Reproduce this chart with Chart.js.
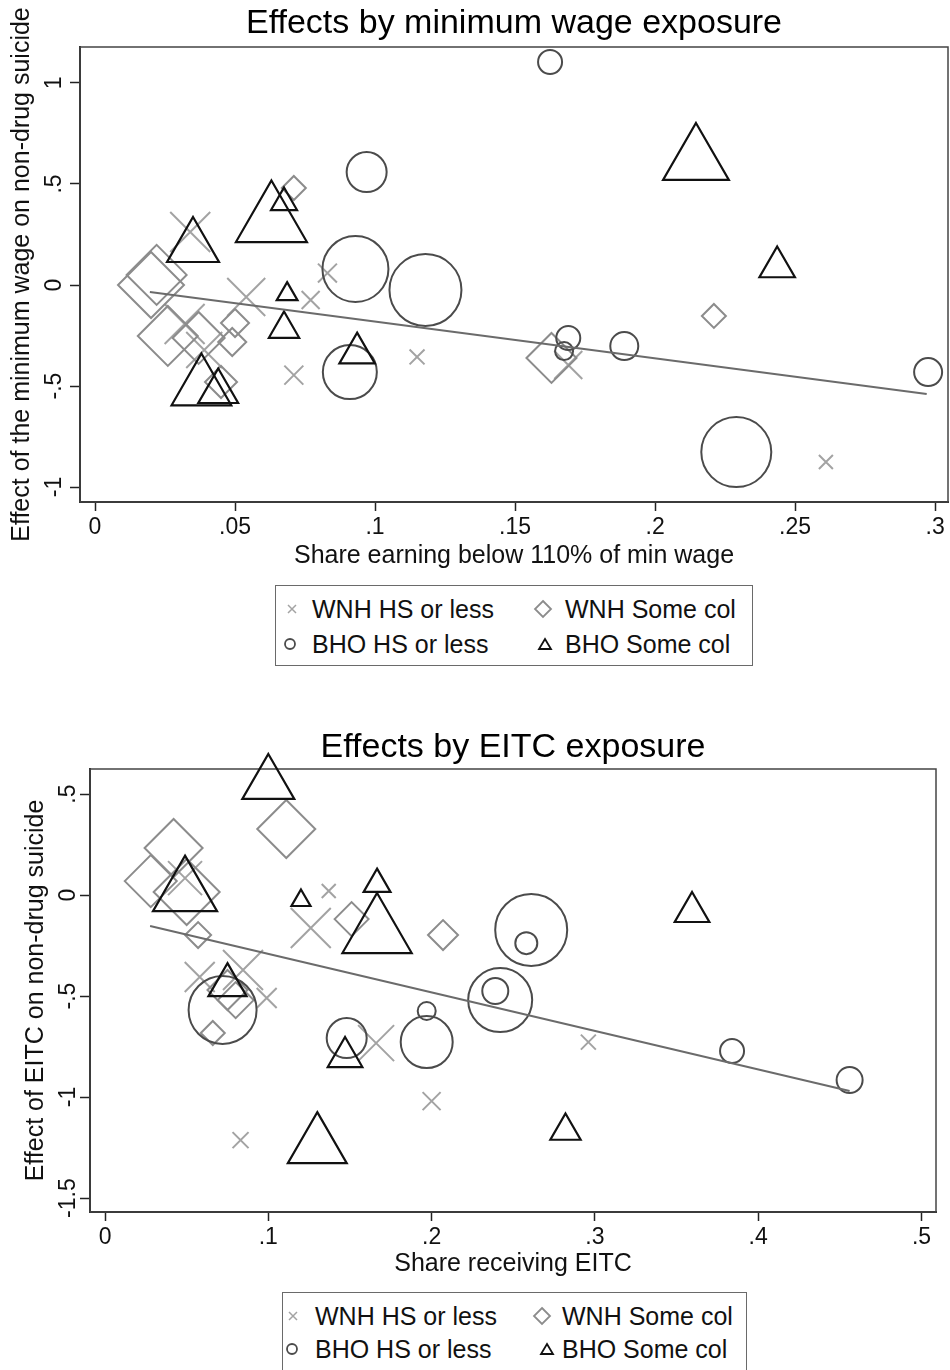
<!DOCTYPE html>
<html>
<head>
<meta charset="utf-8">
<script src="https://cdn.jsdelivr.net/npm/chart.js@4.4.0/dist/chart.umd.min.js"></script>
<style>
  html, body { margin: 0; padding: 0; background: #fff; }
  body { width: 950px; height: 1370px; position: relative; overflow: hidden;
         font-family: "Liberation Sans", Arial, sans-serif; }
  canvas { position: absolute; left: 0; }
  .key { position: absolute; border: 1.5px solid #6a6a6a; box-sizing: border-box; }
  .keytxt { position: absolute; font-size: 25px; line-height: 30px; color: #111; white-space: nowrap; }
  .keysym { position: absolute; overflow: visible; }
</style>
</head>
<body>
<canvas id="mw" width="950" height="575" style="top:0"></canvas>
<canvas id="eitc" width="950" height="585" style="top:700px"></canvas>
<script>
// series names (same in both panels)
const seriesNames = ["WNH HS or less", "WNH Some col", "BHO HS or less", "BHO Some col"];

// ---- panel 1: minimum wage exposure ----
const mwWnhHsX = [0.034, 0.054, 0.083, 0.077, 0.071, 0.115, 0.032, 0.039, 0.169, 0.261];
const mwWnhHsY = [0.262, -0.059, 0.059, -0.074, -0.446, -0.356, -0.193, -0.322, -0.396, -0.876];
const mwWnhHsW = [400, 361, 90, 81, 90, 56, 400, 324, 196, 49];

const mwWnhScX = [0.071, 0.020, 0.022, 0.026, 0.037, 0.050, 0.049, 0.045, 0.163, 0.221];
const mwWnhScY = [0.480, 0.000, 0.050, -0.252, -0.262, -0.188, -0.282, -0.480, -0.361, -0.153];
const mwWnhScW = [144, 1089, 900, 900, 676, 196, 196, 256, 625, 144];

const mwBhoHsX = [0.1625, 0.097, 0.093, 0.118, 0.091, 0.169, 0.1675, 0.189, 0.229, 0.2975];
const mwBhoHsY = [1.104, 0.559, 0.079, -0.025, -0.431, -0.262, -0.327, -0.302, -0.827, -0.431];
const mwBhoHsW = [144, 400, 1089, 1296, 729, 144, 81, 196, 1225, 196];

const mwBhoScX = [0.035, 0.063, 0.0675, 0.0686, 0.0675, 0.0936, 0.038, 0.044, 0.2146, 0.2436];
const mwBhoScY = [0.188, 0.314, 0.408, -0.045, -0.218, -0.337, -0.510, -0.527, 0.614, 0.089];
const mwBhoScW = [900, 1681, 225, 144, 306, 420, 1190, 529, 1444, 420];

const mwFitX = [0.0196, 0.297];
const mwFitY = [-0.035, -0.540];
const mwXTicks = [0, 0.05, 0.1, 0.15, 0.2, 0.25, 0.3];
const mwYTicks = [-1, -0.5, 0, 0.5, 1];

// ---- panel 2: EITC exposure ----
const eiWnhHsX = [0.049, 0.137, 0.126, 0.058, 0.0845, 0.099, 0.166, 0.296, 0.200, 0.083];
const eiWnhHsY = [0.084, 0.020, -0.163, -0.406, -0.371, -0.510, -0.733, -0.728, -1.020, -1.213];
const eiWnhHsW = [289, 49, 400, 225, 400, 100, 324, 56, 81, 64];

const eiWnhScX = [0.042, 0.111, 0.028, 0.050, 0.057, 0.151, 0.207, 0.080, 0.066, 0.075];
const eiWnhScY = [0.233, 0.327, 0.069, 0.015, -0.198, -0.119, -0.198, -0.520, -0.683, -0.470];
const eiWnhScW = [841, 841, 676, 1089, 169, 289, 225, 324, 144, 400];

const eiBhoHsX = [0.072, 0.148, 0.197, 0.197, 0.239, 0.242, 0.261, 0.258, 0.384, 0.456];
const eiBhoHsY = [-0.569, -0.708, -0.574, -0.728, -0.475, -0.520, -0.173, -0.238, -0.772, -0.916];
const eiBhoHsW = [1156, 400, 81, 676, 169, 1024, 1296, 121, 144, 169];

const eiBhoScX = [0.100, 0.049, 0.120, 0.1666, 0.1666, 0.075, 0.147, 0.130, 0.282, 0.3595];
const eiBhoScY = [0.550, 0.012, -0.027, 0.054, -0.188, -0.446, -0.802, -1.243, -1.168, -0.084];
const eiBhoScW = [900, 1369, 121, 240, 1600, 484, 400, 1156, 306, 400];

const eiFitX = [0.0276, 0.456];
const eiFitY = [-0.153, -0.970];
const eiXTicks = [0, 0.1, 0.2, 0.3, 0.4, 0.5];
const eiYTicks = [-1.5, -1, -0.5, 0, 0.5];

Chart.defaults.font.family = '"Liberation Sans", Arial, sans-serif';

// marker look for each series: hollow symbols, grey shades
const looks = [
  { style: "crossRot", color: "#a3a3a3", width: 2, k: Math.SQRT2 },
  { style: "rectRot", color: "#8c8c8c", width: 2, k: 1 },
  { style: "circle", color: "#4b4b4b", width: 2, k: 1 },
  { style: "triangle", color: "#111111", width: 2.2, k: 1 }
];

// Stata style tick labels: .5 instead of 0.5
const stataFmt = v => String(+Number(v).toFixed(4)).replace(/^(-?)0\./, "$1.");

function markerSet(i, xs, ys, ws) {
  const lk = looks[i];
  return {
    label: seriesNames[i],
    data: xs.map((x, j) => ({ x: x, y: ys[j] })),
    pointStyle: lk.style,
    pointRadius: ws.map(w => Math.sqrt(w) * lk.k),
    pointBorderColor: lk.color,
    pointBackgroundColor: "rgba(0,0,0,0)",
    pointBorderWidth: lk.width,
    order: 4 - i,
    clip: false
  };
}

function fitSet(xs, ys) {
  return {
    label: "Fitted",
    data: xs.map((x, j) => ({ x: x, y: ys[j] })),
    showLine: true,
    borderColor: "#6b6b6b",
    borderWidth: 2,
    pointRadius: 0,
    order: 0,
    clip: false
  };
}

// plot region box (top and right sides too)
const frame = {
  id: "frame",
  beforeDatasetsDraw(chart) {
    const a = chart.chartArea, c = chart.ctx;
    c.save();
    c.strokeStyle = "#444";
    c.lineWidth = 1.5;
    c.strokeRect(a.left, a.top, a.right - a.left, a.bottom - a.top);
    c.restore();
  }
};

function panel(id, o) {
  return new Chart(document.getElementById(id), {
    type: "scatter",
    data: { datasets: o.datasets },
    options: {
      responsive: false,
      animation: false,
      events: [],
      layout: { autoPadding: false, padding: { left: 0, right: o.padRight, top: 0, bottom: 0 } },
      plugins: {
        legend: { display: false },
        tooltip: { enabled: false },
        title: {
          display: true, text: o.title, color: "#000", fullSize: false,
          font: { size: 34, weight: "normal" }, padding: o.titlePad
        }
      },
      scales: {
        x: {
          type: "linear", min: o.xMin, max: o.xMax,
          afterBuildTicks: s => { s.ticks = o.xTicks.map(v => ({ value: v })); },
          afterFit: s => {
            s.height = 73;
            s.paddingLeft = 0; s.paddingRight = 0;
          },
          ticks: { callback: v => stataFmt(v), color: "#111", font: { size: 23 },
                   padding: 3, maxRotation: 0, autoSkip: false },
          grid: { drawOnChartArea: false, tickLength: 9, tickWidth: 1.5, tickColor: "#222" },
          border: { color: "#222", width: 2 },
          title: { display: true, text: o.xTitle, color: "#111", font: { size: 25 },
                   padding: { top: 0, bottom: o.xTitlePad } }
        },
        y: {
          type: "linear", min: o.yMin, max: o.yMax,
          afterBuildTicks: s => { s.ticks = o.yTicks.map(v => ({ value: v })); },
          afterFit: s => {
            s.width = o.yWidth;
            s.paddingTop = 0; s.paddingBottom = 0; s.paddingLeft = 0; s.paddingRight = 0;
          },
          ticks: { callback: v => stataFmt(v), color: "#111", font: { size: 23 },
                   minRotation: 90, maxRotation: 90, crossAlign: "center",
                   padding: o.yTickPad, autoSkip: false },
          grid: { drawOnChartArea: false, tickLength: 10, tickWidth: 1.5, tickColor: "#222" },
          border: { color: "#222", width: 2 },
          title: { display: true, text: o.yTitle, color: "#111", font: { size: 25 },
                   padding: { top: o.yTitlePad, bottom: 0 } }
        }
      }
    },
    plugins: [frame]
  });
}

panel("mw", {
  title: "Effects by minimum wage exposure",
  titlePad: { top: 3, bottom: 3.2 },
  padRight: 2,
  xMin: -0.00536, xMax: 0.3046, xTicks: mwXTicks,
  yMin: -1.074, yMax: 1.178, yTicks: mwYTicks,
  xTitle: "Share earning below 110% of min wage", xTitlePad: 4,
  yTitle: "Effect of the minimum wage on non-drug suicide", yTitlePad: 7,
  yWidth: 80, yTickPad: 2,
  datasets: [
    markerSet(0, mwWnhHsX, mwWnhHsY, mwWnhHsW),
    markerSet(1, mwWnhScX, mwWnhScY, mwWnhScW),
    markerSet(2, mwBhoHsX, mwBhoHsY, mwBhoHsW),
    markerSet(3, mwBhoScX, mwBhoScY, mwBhoScW),
    fitSet(mwFitX, mwFitY)
  ]
});

panel("eitc", {
  title: "Effects by EITC exposure",
  titlePad: { top: 27, bottom: 1.2 },
  padRight: 14,
  xMin: -0.0092, xMax: 0.5089, xTicks: eiXTicks,
  yMin: -1.569, yMax: 0.624, yTicks: eiYTicks,
  xTitle: "Share receiving EITC", xTitlePad: 6,
  yTitle: "Effect of EITC on non-drug suicide", yTitlePad: 21,
  yWidth: 90, yTickPad: -8,
  datasets: [
    markerSet(0, eiWnhHsX, eiWnhHsY, eiWnhHsW),
    markerSet(1, eiWnhScX, eiWnhScY, eiWnhScW),
    markerSet(2, eiBhoHsX, eiBhoHsY, eiBhoHsW),
    markerSet(3, eiBhoScX, eiBhoScY, eiBhoScW),
    fitSet(eiFitX, eiFitY)
  ]
});

// ---- legends (HTML boxes under each panel) ----
const keySyms = [
  (c) => `<svg class="keysym" width="10" height="10"><path d="M1 1L9 9M9 1L1 9" stroke="${c}" stroke-width="1.5"/></svg>`,
  (c) => `<svg class="keysym" width="18" height="18"><path d="M9 1L17 9L9 17L1 9Z" fill="none" stroke="${c}" stroke-width="1.8"/></svg>`,
  (c) => `<svg class="keysym" width="12" height="12"><circle cx="6" cy="6" r="5" fill="none" stroke="${c}" stroke-width="1.8"/></svg>`,
  (c) => `<svg class="keysym" width="14" height="12"><path d="M7 1L13 11L1 11Z" fill="none" stroke="${c}" stroke-width="1.8"/></svg>`
];

function buildKey(box, cells) {
  const k = document.createElement("div");
  k.className = "key";
  Object.assign(k.style, { left: box.l + "px", top: box.t + "px", width: box.w + "px", height: box.h + "px" });
  document.body.appendChild(k);
  cells.forEach((cell, i) => {
    const holder = document.createElement("div");
    holder.innerHTML = keySyms[i](looks[i].color);
    const svg = holder.firstChild;
    const w = +svg.getAttribute("width"), h = +svg.getAttribute("height");
    svg.style.left = (cell.sx - w / 2) + "px";
    svg.style.top = (cell.sy - h / 2) + "px";
    document.body.appendChild(svg);
    const t = document.createElement("div");
    t.className = "keytxt";
    t.textContent = seriesNames[i];
    t.style.left = cell.tx + "px";
    t.style.top = (cell.sy - 15) + "px";
    document.body.appendChild(t);
  });
}

buildKey({ l: 275, t: 585, w: 478, h: 81 }, [
  { sx: 292, sy: 609, tx: 312 }, { sx: 543, sy: 609, tx: 565 },
  { sx: 290, sy: 644, tx: 312 }, { sx: 545, sy: 644, tx: 565 }
]);
buildKey({ l: 282, t: 1292, w: 465, h: 100 }, [
  { sx: 293, sy: 1316, tx: 315 }, { sx: 542, sy: 1316, tx: 562 },
  { sx: 292, sy: 1349, tx: 315 }, { sx: 547, sy: 1349, tx: 562 }
]);
</script>
</body>
</html>
